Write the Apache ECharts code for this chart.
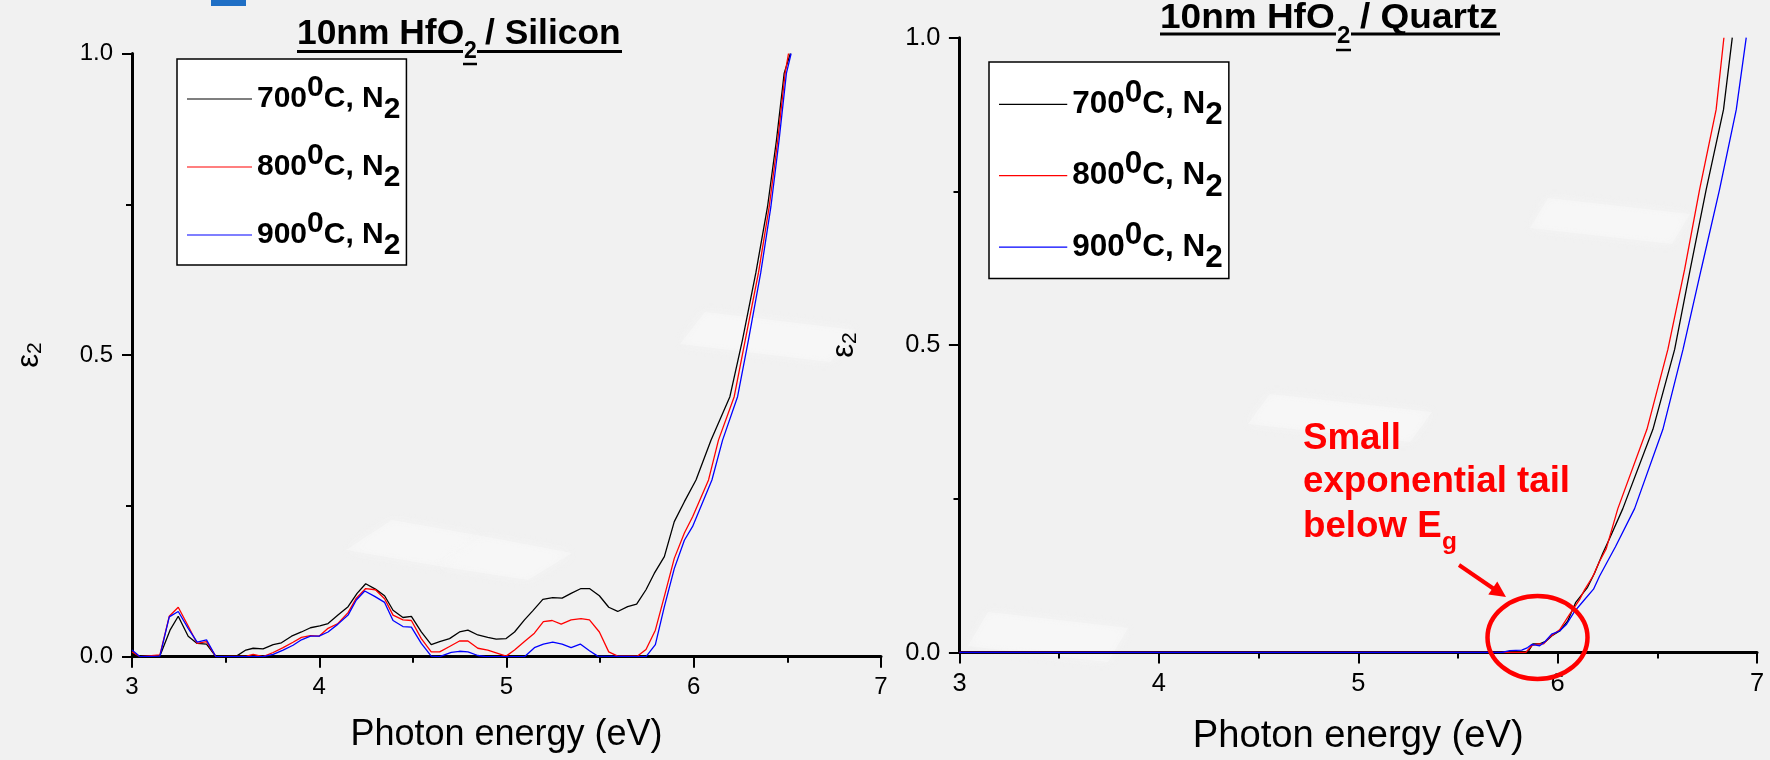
<!DOCTYPE html>
<html>
<head>
<meta charset="utf-8">
<script src="https://cdn.jsdelivr.net/npm/echarts@6/dist/echarts.min.js"></script>
<style>
  html, body { margin: 0; padding: 0; background: #f1f1f1; }
  #chart { width: 1770px; height: 760px; }
</style>
</head>
<body>
<div id="chart"></div>
<script>
// Annealing temperatures (°C) and line colours for the three samples
const temps = ['700', '800', '900'];
const colors = ['#000000', '#ff0000', '#0000ff'];

// ε2 spectra, [photon energy (eV), ε2] — 10 nm HfO2 on silicon
const si700 = [[3.00,0.005],[3.043,0],[3.149,0.001],[3.203,0.044],[3.247,0.067],[3.30,0.034],[3.348,0.022],[3.398,0.021],[3.448,0],[3.558,0.001],[3.608,0.011],[3.647,0.014],[3.70,0.013],[3.754,0.020],[3.798,0.023],[3.852,0.034],[3.905,0.041],[3.953,0.048],[4.003,0.051],[4.047,0.055],[4.10,0.069],[4.154,0.083],[4.202,0.105],[4.248,0.121],[4.30,0.112],[4.349,0.101],[4.394,0.077],[4.447,0.065],[4.492,0.067],[4.545,0.041],[4.598,0.020],[4.643,0.025],[4.696,0.030],[4.749,0.041],[4.794,0.044],[4.847,0.036],[4.90,0.032],[4.945,0.029],[4.998,0.030],[5.043,0.041],[5.096,0.061],[5.14,0.076],[5.194,0.095],[5.247,0.098],[5.297,0.097],[5.345,0.105],[5.398,0.113],[5.443,0.113],[5.496,0.101],[5.546,0.082],[5.594,0.075],[5.647,0.083],[5.695,0.087],[5.745,0.111],[5.789,0.138],[5.843,0.166],[5.896,0.224],[5.95,0.257],[6.012,0.293],[6.092,0.359],[6.193,0.431],[6.26,0.525],[6.332,0.637],[6.394,0.746],[6.442,0.857],[6.483,0.9675],[6.516,1.0]];
const si800 = [[3.00,0.008],[3.043,0],[3.149,0.003],[3.199,0.067],[3.247,0.082],[3.30,0.051],[3.348,0.022],[3.398,0.025],[3.448,0],[3.612,0.001],[3.647,0.004],[3.70,0],[3.754,0.007],[3.807,0.015],[3.86,0.024],[3.905,0.032],[3.953,0.035],[3.999,0.034],[4.047,0.047],[4.10,0.055],[4.154,0.073],[4.198,0.097],[4.248,0.113],[4.30,0.111],[4.349,0.096],[4.394,0.069],[4.447,0.061],[4.492,0.060],[4.545,0.030],[4.598,0.008],[4.643,0.008],[4.696,0.017],[4.749,0.026],[4.794,0.026],[4.847,0.014],[4.90,0.011],[4.998,0.001],[5.043,0.011],[5.096,0.025],[5.149,0.039],[5.197,0.058],[5.244,0.060],[5.292,0.054],[5.345,0.061],[5.398,0.063],[5.443,0.061],[5.496,0.041],[5.546,0.008],[5.594,0.001],[5.70,0.001],[5.745,0.012],[5.795,0.044],[5.843,0.100],[5.896,0.163],[5.95,0.205],[5.994,0.232],[6.079,0.293],[6.132,0.359],[6.216,0.431],[6.275,0.525],[6.346,0.637],[6.403,0.746],[6.449,0.857],[6.488,0.9675],[6.506,1.0]];
const si900 = [[3.00,0.011],[3.043,0],[3.149,0.001],[3.199,0.066],[3.247,0.075],[3.30,0.047],[3.348,0.024],[3.398,0.028],[3.448,0],[3.70,0],[3.754,0.004],[3.807,0.011],[3.86,0.019],[3.905,0.028],[3.953,0.034],[3.999,0.034],[4.047,0.041],[4.10,0.054],[4.154,0.069],[4.198,0.094],[4.243,0.109],[4.296,0.100],[4.349,0.090],[4.394,0.060],[4.447,0.050],[4.492,0.049],[4.545,0.022],[4.598,0.001],[4.643,0],[4.705,0.007],[4.749,0.009],[4.794,0.008],[4.847,0.002],[4.89,0],[5.096,0],[5.149,0.015],[5.197,0.021],[5.247,0.024],[5.297,0.021],[5.345,0.015],[5.394,0.021],[5.443,0.010],[5.487,0.001],[5.745,0],[5.795,0.020],[5.843,0.083],[5.896,0.146],[5.95,0.193],[5.994,0.216],[6.097,0.293],[6.154,0.359],[6.234,0.431],[6.292,0.525],[6.358,0.637],[6.412,0.746],[6.456,0.857],[6.495,0.9675],[6.52,1.0]];

// ε2 spectra — 10 nm HfO2 on quartz
const qz700 = [[3.00,0],[5.85,0],[5.876,0.014],[5.91,0.014],[5.94,0.018],[5.97,0.027],[6.01,0.035],[6.05,0.051],[6.09,0.081],[6.15,0.106],[6.185,0.129],[6.227,0.162],[6.26,0.185],[6.327,0.234],[6.478,0.363],[6.587,0.493],[6.665,0.623],[6.745,0.753],[6.832,0.883],[6.876,1.0]];
const qz800 = [[3.00,0],[5.84,0],[5.87,0.011],[5.90,0.014],[5.93,0.014],[5.96,0.025],[6.01,0.037],[6.06,0.062],[6.11,0.086],[6.135,0.102],[6.177,0.124],[6.21,0.148],[6.244,0.169],[6.302,0.234],[6.448,0.363],[6.553,0.493],[6.637,0.623],[6.712,0.753],[6.795,0.883],[6.834,1.0]];
const qz900 = [[3.00,0],[5.72,0],[5.76,0.003],[5.82,0.004],[5.85,0.008],[5.87,0.013],[5.89,0.012],[5.91,0.011],[5.935,0.017],[5.97,0.030],[6.01,0.035],[6.045,0.046],[6.085,0.067],[6.127,0.083],[6.18,0.103],[6.21,0.124],[6.25,0.148],[6.29,0.172],[6.386,0.234],[6.528,0.363],[6.629,0.493],[6.72,0.623],[6.812,0.753],[6.896,0.883],[6.946,1.0]];

const siliconSets = [si700, si800, si900];
const quartzSets = [qz700, qz800, qz900];

const FONT = "'Liberation Sans', Arial, Helvetica, sans-serif";

function makeAxes(gridIndex, s, yNameGap, xNameGap) {
  const x = {
    gridIndex, type: 'value', min: 3, max: 7, interval: 1,
    axisLine: { show: true, onZero: false, lineStyle: { color: '#000', width: 3 } },
    axisTick: { show: true, length: 11, lineStyle: { color: '#000', width: 2 } },
    minorTick: { show: true, splitNumber: 2, length: 6, lineStyle: { color: '#000', width: 2 } },
    splitLine: { show: false },
    axisLabel: { color: '#000', fontFamily: FONT, fontSize: 24 * s, margin: 19 },
    name: 'Photon energy (eV)', nameLocation: 'middle', nameGap: xNameGap,
    nameTextStyle: { color: '#000', fontFamily: FONT, fontSize: 36 * s }
  };
  const y = {
    gridIndex, type: 'value', min: 0, max: 1, interval: 0.5,
    axisLine: { show: true, onZero: false, lineStyle: { color: '#000', width: 3 } },
    axisTick: { show: true, length: 10 * s, lineStyle: { color: '#000', width: 2 } },
    minorTick: { show: true, splitNumber: 2, length: 6, lineStyle: { color: '#000', width: 2 } },
    splitLine: { show: false },
    axisLabel: { color: '#000', fontFamily: FONT, fontSize: 24 * s, margin: 19, formatter: v => v.toFixed(1) },
    name: 'ε{s|2}', nameLocation: 'middle', nameGap: yNameGap, nameRotate: 90,
    nameTextStyle: { color: '#000', fontFamily: FONT, fontSize: 31,
      rich: { s: { fontFamily: FONT, fontSize: 21, color: '#000', verticalAlign: 'bottom', padding: [12, 0, 0, 0] } } }
  };
  return [x, y];
}

function legendFor(left, top, s, pad) {
  const base = { fontFamily: FONT, fontWeight: 'bold', fontSize: 30 * s, color: '#000', lineHeight: 52 * s };
  return {
    orient: 'vertical', left, top, padding: pad,
    backgroundColor: '#ffffff', borderColor: '#000', borderWidth: 1.5,
    itemWidth: 65 * s, itemHeight: 1.2, itemGap: 16 * s, icon: 'rect',
    selectedMode: false, data: temps,
    formatter: name => '{t|' + name + '}{sup|0}{t|C, N}{sub|2}',
    textStyle: {
      rich: {
        t: Object.assign({}, base, { verticalAlign: 'middle' }),
        sup: Object.assign({}, base, { verticalAlign: 'top' }),
        sub: Object.assign({}, base, { verticalAlign: 'bottom' })
      }
    }
  };
}

const [x0, y0] = makeAxes(0, 1, 86, 60.5);
const [x1, y1] = makeAxes(1, 1.06, 99, 64.5);

const series = [];
temps.forEach((t, i) => {
  series.push({ name: t, type: 'line', xAxisIndex: 0, yAxisIndex: 0, data: siliconSets[i],
    symbol: 'none', clip: true, lineStyle: { color: colors[i], width: 1.3 }, itemStyle: { color: colors[i] } });
  series.push({ name: t, type: 'line', xAxisIndex: 1, yAxisIndex: 1, data: quartzSets[i],
    symbol: 'none', clip: true, lineStyle: { color: colors[i], width: 1.3 }, itemStyle: { color: colors[i] } });
});

// text helper: baseline y is converted to the canvas "middle" line; sx stretches horizontally
function txt(x, baseline, text, size, color, sx) {
  return { type: 'text', z: 10, x, y: baseline - 0.3465 * size, scaleX: sx || 1, style: {
    text, x: 0, y: 0, fill: color, font: 'bold ' + size + 'px ' + FONT,
    textAlign: 'left', align: 'left', textVerticalAlign: 'middle', verticalAlign: 'middle' } };
}
function hline(x1, x2, y, w, color) {
  return { type: 'line', z: 10, shape: { x1, y1: y, x2, y2: y }, style: { stroke: color, lineWidth: w } };
}
// faint light tiles of the slide background
function tile(points) {
  return { type: 'polygon', z: -10, silent: true, shape: { points },
    style: { fill: '#fafafa', opacity: 0.42, shadowBlur: 12, shadowColor: '#fafafa' } };
}

const graphics = [
  tile([[392,520],[482,536],[438,566],[346,550]]),
  tile([[482,536],[572,553],[528,580],[438,566]]),
  tile([[705,312],[855,330],[830,362],[680,344]]),
  tile([[1270,394],[1432,412],[1410,442],[1248,424]]),
  tile([[1548,198],[1690,214],[1672,244],[1530,228]]),
  tile([[988,612],[1128,628],[1108,662],[968,646]]),
  // small blue tab at the top edge
  { type: 'rect', shape: { x: 211, y: 0, width: 35, height: 6 }, style: { fill: '#1f6fc5' } },
  // title: 10nm HfO2 / Silicon
  txt(297, 46.7, '10nm HfO', 35.4, '#000'),
  txt(464, 59.5, '2', 23, '#000'),
  txt(485, 46.7, '/ Silicon', 35.4, '#000'),
  hline(297, 463, 51.5, 3, '#000'),
  hline(463, 477, 64, 2.5, '#000'),
  hline(477, 622, 51.5, 3, '#000'),
  // title: 10nm HfO2 / Quartz
  txt(1160, 30.5, '10nm HfO', 35.5, '#000', 1.042),
  txt(1337, 45, '2', 24, '#000'),
  txt(1360, 30.5, '/ Quartz', 35.5, '#000', 1.042),
  hline(1160, 1336, 34, 3, '#000'),
  hline(1336, 1351, 50, 2.5, '#000'),
  hline(1351, 1500, 34, 3, '#000'),
  // annotation
  txt(1303, 452, 'Small', 36.7, '#ff0000'),
  txt(1303, 495, 'exponential tail', 36.7, '#ff0000'),
  txt(1303, 540, 'below E', 36.7, '#ff0000'),
  txt(1442, 551, 'g', 24.5, '#ff0000'),
  { type: 'line', z: 10, shape: { x1: 1459, y1: 565, x2: 1494, y2: 589 }, style: { stroke: '#ff0000', lineWidth: 4 } },
  { type: 'polygon', z: 10, shape: { points: [[1506, 597], [1488.3, 594.6], [1497.3, 581.4]] }, style: { fill: '#ff0000' } },
  { type: 'ellipse', z: 10, shape: { cx: 1537.5, cy: 637.5, rx: 50, ry: 41.5 }, style: { fill: 'none', stroke: '#ff0000', lineWidth: 4.5 } }
];

const chart = echarts.init(document.getElementById('chart'), null, { renderer: 'canvas' });
chart.setOption({
  animation: false,
  backgroundColor: '#f1f1f1',
  grid: [
    { left: 132, top: 53.5, width: 749, height: 603.2, containLabel: false },
    { left: 959.5, top: 37.7, width: 797.5, height: 619, containLabel: false }
  ],
  xAxis: [x0, x1],
  yAxis: [y0, y1],
  legend: [
    legendFor(177, 59, 1, [14, 6, 4, 10]),
    legendFor(989, 62, 1.05, [15, 6, 4, 10])
  ],
  series,
  graphic: graphics
});
</script>
</body>
</html>
